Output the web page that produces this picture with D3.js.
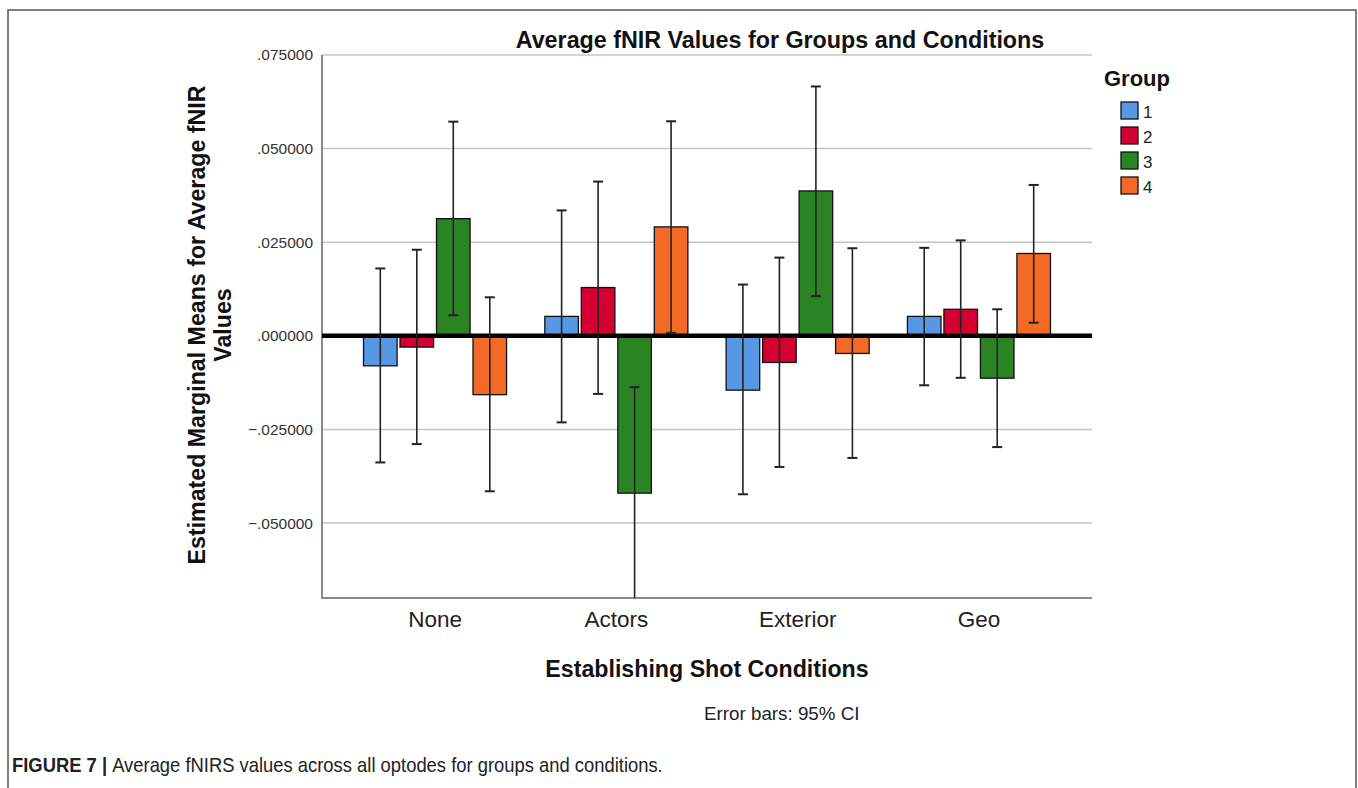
<!DOCTYPE html>
<html>
<head>
<meta charset="utf-8">
<script src="https://cdn.jsdelivr.net/npm/d3@7"></script>
<style>
  body { margin: 0; background: #fff; }
  svg text { font-family: "Liberation Sans", Arial, sans-serif; }
</style>
</head>
<body>
<div id="chart"></div>
<script>
"use strict";
// données
const conditions = ["None", "Actors", "Exterior", "Geo"];
const groups = ["1", "2", "3", "4"];
const groupColors = ["#5797e4", "#d50032", "#2b8423", "#f26a25"];
// moyennes par condition (une ligne) et par groupe (colonnes)
const means = [
  [-0.0080, -0.0030, 0.0313, -0.0157],
  [0.0052, 0.0129, -0.0420, 0.0291],
  [-0.0145, -0.0071, 0.0387, -0.0047],
  [0.0052, 0.0071, -0.0113, 0.0220]
];
const ciLow = [
  [-0.0338, -0.0289, 0.0055, -0.0415],
  [-0.0231, -0.0155, -0.0720, 0.0008],
  [-0.0423, -0.0350, 0.0106, -0.0326],
  [-0.0132, -0.0112, -0.0297, 0.0035]
];
const ciHigh = [
  [0.0180, 0.0230, 0.0572, 0.0103],
  [0.0335, 0.0412, -0.0137, 0.0573],
  [0.0137, 0.0209, 0.0666, 0.0234],
  [0.0235, 0.0255, 0.0071, 0.0403]
];
const yTicks = [0.075, 0.05, 0.025, 0, -0.025, -0.05];

const W = 1358, H = 788;
const plot = {left: 322, right: 1092, top: 55, bottom: 598};

const svg = d3.select("#chart").append("svg")
  .attr("width", W).attr("height", H);

// cadre de la figure
svg.append("rect")
  .attr("x", 8).attr("y", 10).attr("width", 1348).attr("height", 800)
  .attr("fill", "none").attr("stroke", "#555").attr("stroke-width", 1.5);

const y = d3.scaleLinear().domain([-0.07, 0.075]).range([plot.bottom, plot.top]);
const x0 = d3.scaleBand().domain(conditions).range([plot.left, plot.right])
  .paddingInner(0.211).paddingOuter(0.229);
const x1 = d3.scaleBand().domain(groups).range([0, x0.bandwidth()]).paddingInner(0.08);

// grille
svg.append("g").selectAll("line").data(yTicks).join("line")
  .attr("x1", plot.left).attr("x2", plot.right)
  .attr("y1", d => y(d)).attr("y2", d => y(d))
  .attr("stroke", "#c4c4c4").attr("stroke-width", 1.5);

// axe y (étiquettes seulement)
const yAxis = svg.append("g")
  .attr("transform", `translate(${plot.left},0)`)
  .call(d3.axisLeft(y).tickValues(yTicks).tickSize(0).tickPadding(9)
    .tickFormat(d => d3.format(".6f")(d).replace("0.", ".")));
yAxis.select(".domain").remove();
yAxis.selectAll("text").attr("font-size", 15.5).attr("fill", "#333")
  .style("font-family", '"Liberation Sans", Arial, sans-serif');

// cadre gauche et bas
svg.append("path")
  .attr("d", `M${plot.left},${plot.top}V${plot.bottom}H${plot.right}`)
  .attr("fill", "none").attr("stroke", "#8a8a8a").attr("stroke-width", 2);

svg.append("clipPath").attr("id", "clipPlot").append("rect")
  .attr("x", plot.left).attr("y", plot.top)
  .attr("width", plot.right - plot.left).attr("height", plot.bottom - plot.top);

const gPlot = svg.append("g").attr("clip-path", "url(#clipPlot)");

const cells = [];
conditions.forEach((c, i) => groups.forEach((g, j) => {
  cells.push({cond: c, group: g, gi: j, mean: means[i][j], lo: ciLow[i][j], hi: ciHigh[i][j]});
}));

// barres
gPlot.selectAll("rect.bar").data(cells).join("rect")
  .attr("class", "bar")
  .attr("x", d => x0(d.cond) + x1(d.group))
  .attr("width", x1.bandwidth())
  .attr("y", d => y(Math.max(0, d.mean)))
  .attr("height", d => Math.abs(y(d.mean) - y(0)))
  .attr("fill", d => groupColors[d.gi])
  .attr("stroke", "#111").attr("stroke-width", 1.3);

// ligne zéro
gPlot.append("line")
  .attr("x1", plot.left).attr("x2", plot.right)
  .attr("y1", y(0)).attr("y2", y(0))
  .attr("stroke", "#000").attr("stroke-width", 4.5);

// barres d'erreur
const capW = 10;
const eb = gPlot.selectAll("g.err").data(cells).join("g").attr("class", "err")
  .attr("transform", d => `translate(${x0(d.cond) + x1(d.group) + x1.bandwidth() / 2},0)`);
eb.append("line").attr("y1", d => y(d.lo)).attr("y2", d => y(d.hi))
  .attr("stroke", "#222").attr("stroke-width", 1.6);
eb.append("line").attr("x1", -capW / 2).attr("x2", capW / 2)
  .attr("y1", d => y(d.hi)).attr("y2", d => y(d.hi))
  .attr("stroke", "#222").attr("stroke-width", 2);
eb.append("line").attr("x1", -capW / 2).attr("x2", capW / 2)
  .attr("y1", d => y(d.lo)).attr("y2", d => y(d.lo))
  .attr("stroke", "#222").attr("stroke-width", 2);

// étiquettes x
const xAxis = svg.append("g")
  .attr("transform", `translate(0,${plot.bottom})`)
  .call(d3.axisBottom(x0).tickSize(0).tickPadding(13));
xAxis.select(".domain").remove();
xAxis.selectAll("text").attr("font-size", 22.5).attr("fill", "#222")
  .style("font-family", '"Liberation Sans", Arial, sans-serif');

// titres
svg.append("text").attr("x", 780).attr("y", 48).attr("text-anchor", "middle")
  .attr("font-size", 23.3).attr("font-weight", "bold").attr("fill", "#111")
  .text("Average fNIR Values for Groups and Conditions");

svg.append("text").attr("x", (plot.left + plot.right) / 2).attr("y", 677)
  .attr("text-anchor", "middle").attr("font-size", 23.2).attr("font-weight", "bold").attr("fill", "#111")
  .text("Establishing Shot Conditions");

const yTitle = svg.append("text").attr("transform", "translate(205,325) rotate(-90)")
  .attr("text-anchor", "middle").attr("font-size", 23.2).attr("font-weight", "bold").attr("fill", "#111");
yTitle.append("tspan").attr("x", 0).attr("y", 0).text("Estimated Marginal Means for Average fNIR");
yTitle.append("tspan").attr("x", 0).attr("y", 26).text("Values");

svg.append("text").attr("x", 704).attr("y", 720)
  .attr("font-size", 18.8).attr("fill", "#222").text("Error bars: 95% CI");

// légende
svg.append("text").attr("x", 1104).attr("y", 86)
  .attr("font-size", 22).attr("font-weight", "bold").attr("fill", "#111").text("Group");
const leg = svg.append("g").selectAll("g").data(groups).join("g")
  .attr("transform", (d, i) => `translate(1121,${102 + i * 25})`);
leg.append("rect").attr("width", 17).attr("height", 17)
  .attr("fill", (d, i) => groupColors[i]).attr("stroke", "#111").attr("stroke-width", 1.3);
leg.append("text").attr("x", 22).attr("y", 16).attr("font-size", 17).attr("fill", "#222").text(d => d);

// légende de la figure
const cap = svg.append("text").attr("transform", "translate(12,772) scale(0.92,1)")
  .attr("font-size", 20).attr("fill", "#222");
cap.append("tspan").attr("font-weight", "bold").text("FIGURE 7 | ");
cap.append("tspan").text("Average fNIRS values across all optodes for groups and conditions.");
</script>
</body>
</html>
